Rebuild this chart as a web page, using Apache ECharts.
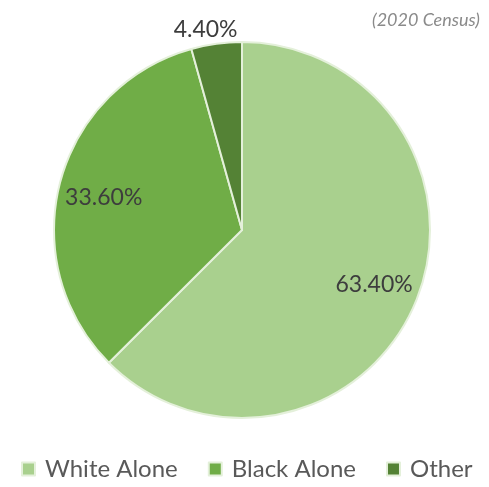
<!DOCTYPE html>
<html>
<head>
<meta charset="utf-8">
<script src="https://cdn.jsdelivr.net/npm/echarts@6/dist/echarts.min.js"></script>
<style>
  html, body { margin: 0; padding: 0; background: #ffffff; }
  #chart { width: 489px; height: 487px; }
</style>
</head>
<body>
<div id="chart"></div>
<script>
// Population by race (2020 Census), percent of residents
const categories = ['White Alone', 'Black Alone', 'Other'];
const shares = [63.40, 33.60, 4.40];
const sliceColors = ['#a9d08e', '#70ad47', '#548235'];

const center = [242, 230];
const labelFont = 'Lato, "Open Sans", sans-serif';
// small nudges for individual value labels
const labelNudge = [[0, 0], [0, 4], [-8, 7]];

const pieData = categories.map((name, i) => ({
  name: name,
  value: shares[i],
  itemStyle: { color: sliceColors[i] }
}));

function fmt(p) { return p.value.toFixed(2) + '%'; }

// Label-only pie: same slices, invisible, used to place value labels
function labelRing(radius, showIndex) {
  return {
    type: 'pie',
    center: center,
    radius: [0, radius],
    startAngle: 90,
    clockwise: true,
    silent: true,
    legendHoverLink: false,
    data: categories.map((name, i) => ({
      name: name,
      value: shares[i],
      itemStyle: { color: 'rgba(0,0,0,0)' },
      label: { show: showIndex.includes(i), offset: labelNudge[i] }
    })),
    label: {
      position: 'inside',
      formatter: fmt,
      color: '#3d3d3d',
      fontSize: 23,
      fontFamily: labelFont
    },
    labelLine: { show: false },
    emphasis: { disabled: true },
    z: 5
  };
}

const chart = echarts.init(document.getElementById('chart'), null, { renderer: 'canvas' });
chart.setOption({
  animation: false,
  backgroundColor: '#ffffff',
  title: {
    text: '(2020 Census)',
    right: 4,
    top: 6,
    textStyle: {
      fontStyle: 'italic',
      fontWeight: 'normal',
      fontSize: 18,
      color: '#8a8a8a',
      fontFamily: labelFont
    }
  },
  legend: {
    data: categories,
    left: 16,
    top: 452,
    icon: 'rect',
    itemWidth: 13,
    itemHeight: 13,
    itemGap: 30,
    textStyle: {
      fontSize: 24,
      color: '#595959',
      fontFamily: labelFont,
      padding: [0, 0, 0, 5]
    }
  },
  series: [
    {
      type: 'pie',
      center: center,
      radius: [0, 188],
      startAngle: 90,
      clockwise: true,
      silent: true,
      data: pieData,
      itemStyle: { borderColor: '#e4f0da', borderWidth: 2 },
      label: { show: false },
      labelLine: { show: false },
      emphasis: { disabled: true },
      z: 2
    },
    labelRing(280, [0, 1]),
    labelRing(412, [2])
  ]
});
</script>
</body>
</html>
